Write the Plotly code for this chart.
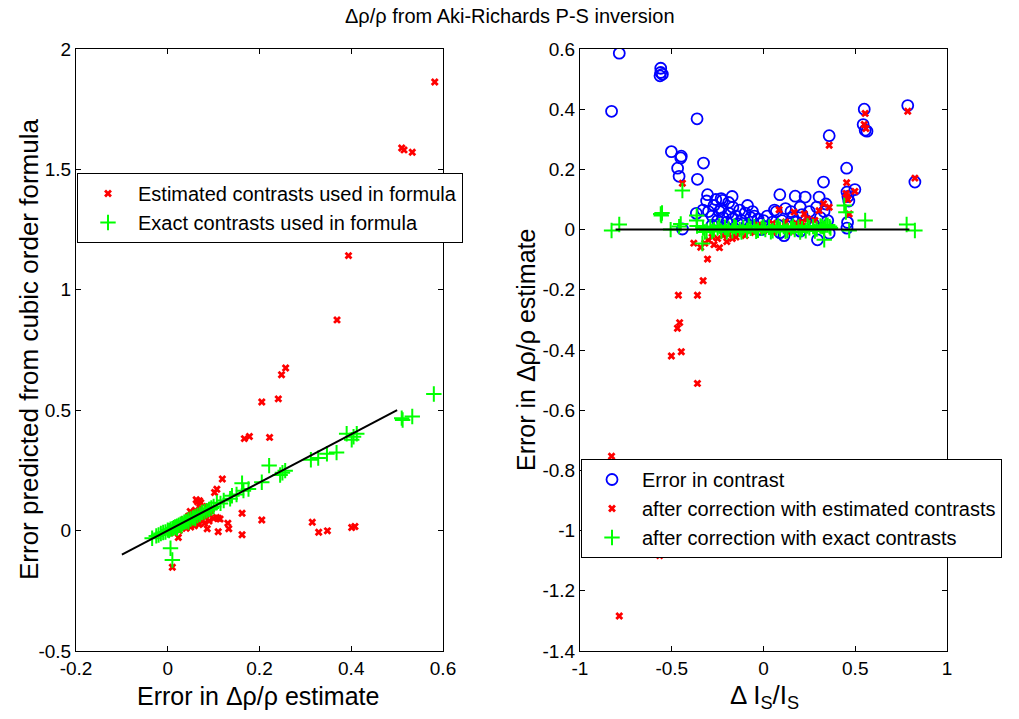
import plotly.graph_objects as go

# ---------------- Left panel data ----------------
left_est_x = [0.582, 0.510, 0.515, 0.533, 0.394, 0.369, 0.257, 0.248, 0.205, 0.241,
              0.167, 0.178, 0.222, 0.119, 0.107, 0.102, 0.069, 0.065, 0.062, 0.072,
              0.049, 0.162, 0.205, 0.110, 0.106, 0.114, 0.131, 0.133, 0.086, 0.110,
              0.162, 0.023, 0.010, 0.315, 0.329, 0.348, 0.401, 0.408,
              0.005, 0.012, 0.018, 0.022, 0.028, 0.030, 0.035, 0.038, 0.042, 0.045,
              0.048, 0.052, 0.055, 0.058, 0.060, 0.062, 0.066, 0.070, 0.072, 0.075,
              0.078, 0.082, 0.085, 0.088, 0.092, 0.095, 0.040, 0.050, 0.058, 0.068,
              0.080, 0.090, 0.100, 0.025, 0.015]
left_est_y = [1.863, 1.589, 1.581, 1.571, 1.142, 0.875, 0.675, 0.647, 0.534, 0.547,
              0.382, 0.391, 0.387, 0.214, 0.172, 0.158, 0.124, 0.120, 0.128, 0.116,
              0.079, 0.072, 0.044, 0.051, 0.055, 0.048, 0.031, 0.008, 0.008, -0.005,
              -0.017, -0.029, -0.152, 0.035, -0.007, -0.001, 0.013, 0.017,
              -0.010, 0.000, 0.020, 0.005, 0.030, 0.012, 0.045, 0.020, 0.030, 0.060,
              0.035, 0.028, 0.070, 0.040, 0.085, 0.050, 0.035, 0.095, 0.060, 0.045,
              0.080, 0.055, 0.100, 0.070, 0.065, 0.090, 0.010, 0.015, 0.020, 0.025,
              0.030, 0.040, 0.050, 0.000, -0.005]

left_exact_x = [-0.034, -0.025, -0.020, -0.015, -0.010, -0.005, 0.000, 0.003, 0.006, 0.010,
                0.013, 0.016, 0.020, 0.024, 0.028, 0.032, 0.036, 0.040, 0.045, 0.050,
                0.055, 0.060, 0.065, 0.070, 0.075, 0.080, 0.085, 0.090, 0.095, 0.100,
                0.107, 0.115, 0.122, 0.136, 0.162, 0.165, 0.176, 0.205, 0.221, 0.245,
                0.256, 0.250, 0.312, 0.328, 0.347, 0.368, 0.390, 0.401, 0.412, 0.405,
                0.510, 0.512, 0.533, 0.580, 0.006, 0.010, 0.020, 0.030, 0.045, 0.060,
                0.140, 0.150]
left_exact_y = [-0.032, -0.022, -0.018, -0.012, -0.008, -0.006, 0.002, 0.000, 0.006, 0.008,
                0.012, 0.015, 0.018, 0.022, 0.027, 0.030, 0.035, 0.038, 0.044, 0.048,
                0.053, 0.058, 0.063, 0.068, 0.075, 0.078, 0.083, 0.088, 0.094, 0.100,
                0.116, 0.113, 0.125, 0.132, 0.197, 0.166, 0.173, 0.201, 0.270, 0.231,
                0.249, 0.240, 0.294, 0.301, 0.319, 0.324, 0.402, 0.377, 0.402, 0.390,
                0.467, 0.459, 0.474, 0.567, -0.073, -0.122, 0.010, 0.020, 0.035, 0.050,
                0.145, 0.150]

left_line_x = [-0.1, 0.5]
left_line_y = [-0.1, 0.5]

# ---------------- Right panel data ----------------
right_contrast_x = [-0.786, -0.828, -0.560, -0.560, -0.564, -0.551, -0.362, -0.502, -0.448, -0.451,
                    -0.468, -0.460, -0.327, -0.360, -0.305, -0.231, -0.224, -0.171, -0.167, -0.087,
                    -0.366, 0.089, 0.173, 0.227, 0.303, 0.327, 0.358, 0.453, 0.460, 0.455,
                    0.465, 0.498, 0.549, 0.543, 0.554, 0.564, 0.786, 0.825, -0.442, 0.294,
                    0.112, 0.358, 0.458, 0.455,
                    -0.330, -0.300, -0.280, -0.270, -0.250, -0.240, -0.220, -0.200, -0.190, -0.170,
                    -0.150, -0.140, -0.120, -0.100, -0.090, -0.070, -0.050, -0.030, -0.020, 0.000,
                    0.020, 0.030, 0.050, 0.070, 0.080, 0.100, 0.120, 0.140, 0.160, 0.180,
                    0.200, 0.210, 0.230, 0.250, 0.270, 0.290, 0.310, 0.330, 0.340, 0.350,
                    -0.310, -0.260, -0.230, -0.190, -0.130, -0.060, 0.060, 0.150, -0.280, -0.010,
                    0.090, 0.200, -0.200]
right_contrast_y = [0.586, 0.393, 0.536, 0.522, 0.511, 0.516, 0.368, 0.259, 0.244, 0.238,
                    0.204, 0.177, 0.221, 0.167, 0.116, 0.103, 0.097, 0.110, 0.074, 0.080,
                    0.054, 0.116, 0.111, 0.108, 0.108, 0.158, 0.312, 0.204, 0.110, 0.125,
                    0.095, 0.133, 0.400, 0.349, 0.330, 0.327, 0.412, 0.158, 0.002, -0.034,
                    -0.020, -0.012, 0.024, 0.005,
                    0.065, 0.060, 0.045, 0.080, 0.030, 0.060, 0.040, 0.025, 0.055, 0.035,
                    0.045, 0.020, 0.030, 0.055, 0.015, 0.040, 0.045, 0.035, 0.020, 0.030,
                    0.045, 0.010, 0.025, 0.060, 0.015, 0.030, 0.070, 0.020, 0.040, 0.025,
                    0.075, 0.050, 0.030, 0.060, 0.020, 0.075, 0.040, 0.060, 0.085, 0.030,
                    0.095, 0.100, 0.070, 0.090, 0.065, 0.060, 0.065, 0.060, 0.015, 0.000,
                    -0.010, -0.005, 0.005]

right_est_x = [-0.442, 0.358, 0.554, 0.549, 0.558, 0.786, 0.825, 0.453, 0.450, 0.455,
               0.460, 0.467, 0.498, 0.327, 0.358, 0.085, 0.167, 0.222, 0.303, 0.280,
               0.210, 0.180, 0.050, -0.030, 0.120, 0.240,
               -0.342, -0.305, -0.329, -0.360, -0.464, -0.457, -0.469, -0.448, -0.502, -0.360,
               -0.828, -0.560, -0.551, -0.566, -0.786,
               -0.320, -0.300, -0.280, -0.270, -0.250, -0.240, -0.220, -0.200, -0.190, -0.170,
               -0.150, -0.130, -0.100, -0.080, -0.050, 0.000, 0.050, 0.100, 0.150, 0.200,
               0.300, -0.380]
right_est_y = [0.154, 0.280, 0.386, 0.349, 0.336, 0.393, 0.171, 0.156, 0.120, 0.110,
               0.100, 0.052, 0.127, 0.086, 0.074, 0.066, 0.058, 0.052, 0.063, 0.030,
               0.025, 0.020, 0.020, 0.015, 0.025, 0.035,
               -0.059, -0.098, -0.170, -0.218, -0.218, -0.309, -0.328, -0.406, -0.420, -0.511,
               -0.753, -1.042, -1.068, -1.083, -1.284,
               -0.045, -0.035, -0.025, -0.050, -0.030, -0.060, -0.020, -0.040, -0.015, -0.030,
               -0.025, -0.010, -0.020, -0.005, -0.010, -0.005, -0.008, 0.005, -0.005, 0.010,
               0.000, -0.045]

right_exact_x = [-0.828, -0.786, -0.560, -0.557, -0.553, -0.442, -0.506, -0.460, -0.451, -0.364,
                 -0.364, -0.362, -0.333, 0.331, 0.440, 0.449, 0.554, 0.780, 0.825, 0.467,
                 0.360, 0.365, 0.340,
                 -0.330, -0.310, -0.290, -0.270, -0.250, -0.230, -0.210, -0.190, -0.170, -0.150,
                 -0.130, -0.110, -0.090, -0.070, -0.050, -0.030, -0.010, 0.010, 0.030, 0.050,
                 0.070, 0.090, 0.110, 0.130, 0.150, 0.170, 0.190, 0.210, 0.230, 0.250,
                 0.270, 0.290, 0.310, 0.330, 0.350,
                 -0.320, -0.280, -0.240, -0.200, -0.160, -0.120, -0.080, -0.040, 0.000, 0.040,
                 0.080, 0.120, 0.160, 0.200, 0.240, 0.280, 0.320]
right_exact_y = [-0.003, 0.017, 0.052, 0.047, 0.055, 0.130, 0.000, 0.010, 0.019, 0.047,
                 0.030, 0.012, -0.046, -0.034, 0.080, 0.058, 0.030, 0.017, -0.003, -0.003,
                 0.010, 0.005, 0.015,
                 0.005, -0.005, 0.010, 0.000, 0.005, -0.005, 0.008, 0.002, -0.004, 0.006,
                 0.000, 0.007, -0.003, 0.004, 0.010, -0.002, 0.005, 0.000, 0.008, -0.004,
                 0.006, 0.002, 0.010, -0.003, 0.005, 0.000, 0.008, 0.003, -0.004, 0.006,
                 0.010, 0.002, 0.012, 0.005, 0.015,
                 -0.008, -0.006, 0.012, -0.007, 0.011, -0.008, 0.012, -0.006, 0.010, -0.007,
                 0.012, -0.006, 0.011, -0.008, 0.012, -0.005, 0.010]

right_line_x = [-0.806, 0.795]
right_line_y = [0.0, 0.0]

title_text = "Δρ/ρ from Aki-Richards P-S inversion"
FONT = "Liberation Sans, Arial, sans-serif"

red = "#ff0000"
green = "#00ff00"
blue = "#0000ff"

fig = go.Figure()

# Left panel
fig.add_trace(go.Scatter(x=left_est_x, y=left_est_y, mode="markers",
                         name="Estimated contrasts used in formula",
                         marker=dict(symbol="x", size=7, color=red, line=dict(width=0)),
                         xaxis="x", yaxis="y", legend="legend"))
fig.add_trace(go.Scatter(x=left_exact_x, y=left_exact_y, mode="markers",
                         name="Exact contrasts used in formula",
                         marker=dict(symbol="cross-thin", size=11, color=green,
                                     line=dict(width=2, color=green)),
                         xaxis="x", yaxis="y", legend="legend"))
fig.add_trace(go.Scatter(x=left_line_x, y=left_line_y, mode="lines",
                         line=dict(color="black", width=2), showlegend=False,
                         xaxis="x", yaxis="y"))

# Right panel
fig.add_trace(go.Scatter(x=right_contrast_x, y=right_contrast_y, mode="markers",
                         name="Error in contrast",
                         marker=dict(symbol="circle-open", size=11, color=blue,
                                     line=dict(width=1.8, color=blue)),
                         xaxis="x2", yaxis="y2", legend="legend2"))
fig.add_trace(go.Scatter(x=right_est_x, y=right_est_y, mode="markers",
                         name="after correction with estimated contrasts",
                         marker=dict(symbol="x", size=7, color=red, line=dict(width=0)),
                         xaxis="x2", yaxis="y2", legend="legend2"))
fig.add_trace(go.Scatter(x=right_exact_x, y=right_exact_y, mode="markers",
                         name="after correction with exact contrasts",
                         marker=dict(symbol="cross-thin", size=11, color=green,
                                     line=dict(width=2, color=green)),
                         xaxis="x2", yaxis="y2", legend="legend2"))
fig.add_trace(go.Scatter(x=right_line_x, y=right_line_y, mode="lines",
                         line=dict(color="black", width=2), showlegend=False,
                         xaxis="x2", yaxis="y2"))

W, H = 1019, 719
ydom = [1 - 651 / H, 1 - 49 / H]

axis_common = dict(showline=True, linecolor="black", linewidth=1, mirror="ticks",
                   ticks="inside", ticklen=5, tickcolor="black", showgrid=False,
                   zeroline=False, automargin=False,
                   tickfont=dict(family=FONT, size=19, color="black"))

leg_font = dict(family=FONT, size=20, color="black")

fig.update_layout(
    template="none",
    width=W, height=H, autosize=False,
    margin=dict(l=0, r=0, t=0, b=0, pad=0),
    paper_bgcolor="white", plot_bgcolor="white",
    font=dict(family=FONT, color="black"),
    xaxis=dict(domain=[76 / W, 443 / W], range=[-0.2, 0.6], tickvals=[-0.2, 0, 0.2, 0.4, 0.6],
               ticktext=["-0.2", "0", "0.2", "0.4", "0.6"], anchor="y", **axis_common),
    yaxis=dict(domain=ydom, range=[-0.5, 2], tickvals=[-0.5, 0, 0.5, 1, 1.5, 2],
               ticktext=["-0.5", "0", "0.5", "1", "1.5", "2"], anchor="x", **axis_common),
    xaxis2=dict(domain=[580 / W, 947 / W], range=[-1, 1], tickvals=[-1, -0.5, 0, 0.5, 1],
                ticktext=["-1", "-0.5", "0", "0.5", "1"], anchor="y2", **axis_common),
    yaxis2=dict(domain=ydom, range=[-1.4, 0.6],
                tickvals=[-1.4, -1.2, -1, -0.8, -0.6, -0.4, -0.2, 0, 0.2, 0.4, 0.6],
                ticktext=["-1.4", "-1.2", "-1", "-0.8", "-0.6", "-0.4", "-0.2", "0", "0.2", "0.4", "0.6"],
                anchor="x2", **axis_common),
    legend=dict(x=77 / W, y=1 - 173 / H, xanchor="left", yanchor="top",
                bgcolor="white", bordercolor="black", borderwidth=1,
                font=leg_font, itemwidth=50, tracegroupgap=0),
    legend2=dict(x=581 / W, y=1 - 459 / H, xanchor="left", yanchor="top",
                 bgcolor="white", bordercolor="black", borderwidth=1,
                 font=leg_font, itemwidth=50, tracegroupgap=0),
    annotations=[
        dict(text=title_text, x=510 / W, y=1 - 16 / H, xref="paper", yref="paper",
             showarrow=False, font=dict(family=FONT, size=20, color="black"),
             xanchor="center", yanchor="middle"),
        dict(text="Error in Δρ/ρ estimate", x=258 / W, y=1 - 680 / H, xref="paper", yref="paper",
             showarrow=False, font=dict(family=FONT, size=25, color="black"),
             xanchor="center", yanchor="top"),
        dict(text="Error predicted from cubic order formula", x=29 / W, y=1 - 350 / H,
             xref="paper", yref="paper", textangle=-90,
             showarrow=False, font=dict(family=FONT, size=26, color="black"),
             xanchor="center", yanchor="middle"),
        dict(text="Δ I<sub>S</sub>/I<sub>S</sub>", x=764 / W, y=1 - 678 / H,
             xref="paper", yref="paper",
             showarrow=False, font=dict(family=FONT, size=26, color="black"),
             xanchor="center", yanchor="top"),
        dict(text="Error in Δρ/ρ estimate", x=526 / W, y=1 - 350 / H,
             xref="paper", yref="paper", textangle=-90,
             showarrow=False, font=dict(family=FONT, size=25, color="black"),
             xanchor="center", yanchor="middle"),
    ],
)

fig.write_html("out.html", config={"displayModeBar": False},
               post_script="document.body.style.margin='0';document.body.style.overflow='hidden';")
